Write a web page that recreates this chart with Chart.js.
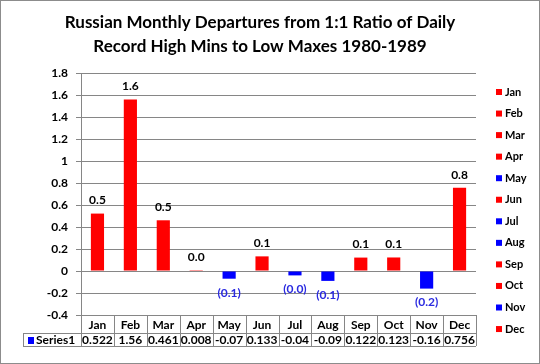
<!DOCTYPE html>
<html>
<head>
<meta charset="utf-8">
<script src="https://cdn.jsdelivr.net/npm/chart.js@4.4.1/dist/chart.umd.min.js"></script>
<style>
    html, body { margin: 0; padding: 0; background: #fff; }
    #wrap { width: 540px; height: 364px; }
</style>
</head>
<body>
<div id="wrap"><canvas id="departures" width="540" height="364"></canvas></div>
<script>
// data
const months = ["Jan", "Feb", "Mar", "Apr", "May", "Jun", "Jul", "Aug", "Sep", "Oct", "Nov", "Dec"];
const values = [0.522, 1.56, 0.461, 0.008, -0.07, 0.133, -0.04, -0.09, 0.122, 0.123, -0.16, 0.756];
const tableValues = ["0.522", "1.56", "0.461", "0.008", "-0.07", "0.133", "-0.04", "-0.09", "0.122", "0.123", "-0.16", "0.756"];
const yTicks = [1.8, 1.6, 1.4, 1.2, 1, 0.8, 0.6, 0.4, 0.2, 0, -0.2, -0.4];
const titleLines = ["Russian Monthly Departures from 1:1 Ratio of Daily", "Record High Mins to Low Maxes 1980-1989"];
const seriesName = "Series1";

const RED = "#ff0000";
const BLUE = "#0000ff";
const GRID = "#868686";
const FONT = "Lato, 'Open Sans', sans-serif";
const barColors = values.map((v) => (v >= 0 ? RED : BLUE));

const extrasPlugin = {
    id: "extras",
    beforeDraw(chart) {
        const ctx = chart.ctx;
        ctx.save();
        ctx.fillStyle = "#fff";
        ctx.fillRect(0, 0, chart.width, chart.height);
        ctx.strokeStyle = "#8c8c8c";
        ctx.lineWidth = 1;
        ctx.strokeRect(0.5, 0.5, chart.width - 1, chart.height - 1);
        ctx.restore();
    },
    afterDraw(chart) {
        const ctx = chart.ctx;
        const x = chart.scales.x;
        const y = chart.scales.y;
        const area = chart.chartArea;
        ctx.save();

        // title
        ctx.fillStyle = "#000";
        ctx.font = "bold 17px " + FONT;
        ctx.textAlign = "center";
        ctx.textBaseline = "middle";
        ctx.fillText(titleLines[0], 260, 23);
        ctx.fillText(titleLines[1], 260, 47);

        // data labels
        ctx.font = "bold 12px " + FONT;
        const meta = chart.getDatasetMeta(0);
        meta.data.forEach((bar, i) => {
            const v = values[i];
            if (v >= 0) {
                ctx.fillStyle = "#000";
                ctx.fillText(v.toFixed(1), bar.x, bar.y - 13);
            } else {
                ctx.fillStyle = "#2a2ae0";
                ctx.fillText("(" + Math.abs(v).toFixed(1) + ")", bar.x, bar.y + 14);
            }
        });

        // data table
        const colW = (area.right - area.left) / months.length;
        const rowTop = area.bottom;
        const rowMid = rowTop + 18;
        const rowBot = rowTop + 31;
        const labelLeft = 23;
        ctx.strokeStyle = GRID;
        ctx.lineWidth = 1;
        ctx.beginPath();
        ctx.moveTo(labelLeft, rowMid + 0.5);
        ctx.lineTo(area.right, rowMid + 0.5);
        ctx.moveTo(labelLeft, rowBot + 0.5);
        ctx.lineTo(area.right, rowBot + 0.5);
        ctx.moveTo(labelLeft + 0.5, rowMid);
        ctx.lineTo(labelLeft + 0.5, rowBot);
        for (let i = 0; i <= months.length; i++) {
            const lx = Math.round(area.left + i * colW) + 0.5;
            ctx.moveTo(lx, rowTop);
            ctx.lineTo(lx, rowBot);
        }
        ctx.stroke();

        ctx.fillStyle = "#000";
        ctx.font = "bold 12px " + FONT;
        months.forEach((m, i) => {
            const cx = x.getPixelForValue(i);
            ctx.fillText(m, cx, rowTop + 10);
            ctx.fillText(tableValues[i], cx, rowMid + 7.5);
        });
        ctx.fillStyle = BLUE;
        ctx.fillRect(28, rowMid + 4, 6, 7);
        ctx.fillStyle = "#000";
        ctx.textAlign = "left";
        ctx.fillText(seriesName, 36, rowMid + 7.5);

        // legend
        ctx.font = "bold 11px " + FONT;
        months.forEach((m, i) => {
            const ly = 92 + i * 21.55;
            ctx.fillStyle = barColors[i];
            ctx.fillRect(496, ly - 3, 6, 6);
            ctx.fillStyle = "#000";
            ctx.fillText(m, 505, ly);
        });

        ctx.restore();
    },
};

const config = {
    type: "bar",
    data: {
        labels: months,
        datasets: [
            {
                label: seriesName,
                data: values,
                backgroundColor: barColors,
                barPercentage: 0.4,
                categoryPercentage: 1,
            },
        ],
    },
    options: {
        responsive: false,
        animation: false,
        layout: {
            padding: { top: 73, bottom: 49, left: 26, right: 64 },
        },
        plugins: {
            legend: { display: false },
            title: { display: false },
            tooltip: { enabled: false },
        },
        scales: {
            x: {
                display: false,
            },
            y: {
                min: -0.4,
                max: 1.8,
                afterFit: (scale) => {
                    scale.width = 55;
                },
                afterBuildTicks: (scale) => {
                    scale.ticks = yTicks.map((v) => ({ value: v }));
                },
                ticks: {
                    color: "#000",
                    font: { family: FONT, size: 12, weight: "bold" },
                    padding: 8,
                    callback: (v) => String(Number(v.toFixed(1))),
                },
                grid: {
                    color: GRID,
                    tickLength: 5,
                    drawTicks: true,
                },
                border: { color: GRID },
            },
        },
    },
    plugins: [extrasPlugin],
};

var departuresChart = new Chart(document.getElementById("departures"), config);
</script>
</body>
</html>
